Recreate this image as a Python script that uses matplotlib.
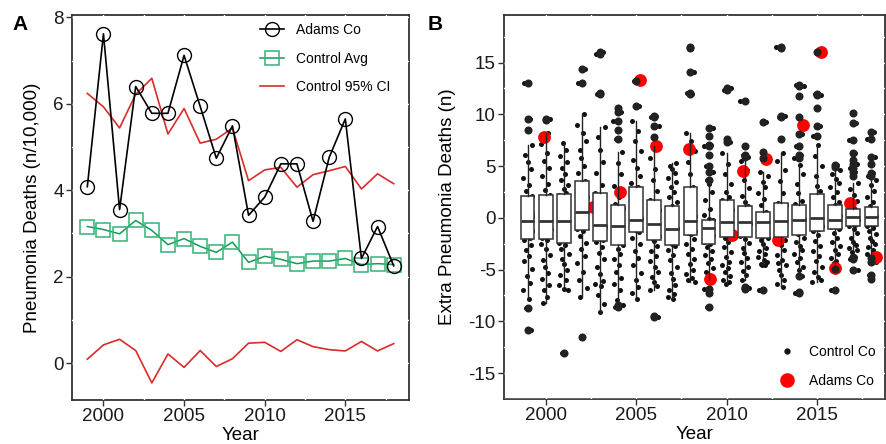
import matplotlib
matplotlib.use("Agg")
import matplotlib.pyplot as plt
from matplotlib.lines import Line2D
from matplotlib.ticker import MultipleLocator
import numpy as np

plt.rcParams['font.family'] = ['Liberation Sans', 'DejaVu Sans']
plt.rcParams['axes.unicode_minus'] = False

years = list(range(1999, 2019))

# panel A: rates per 10,000
adams_rate = [4.08, 7.62, 3.55, 6.40, 5.78, 5.78, 7.12, 5.94, 4.74, 5.49,
              3.42, 3.84, 4.61, 4.61, 3.28, 4.76, 5.65, 2.42, 3.16, 2.25]
control_avg = [3.16, 3.09, 2.99, 3.30, 3.07, 2.74, 2.88, 2.70, 2.56, 2.80,
               2.33, 2.47, 2.40, 2.30, 2.36, 2.36, 2.42, 2.28, 2.30, 2.28]
ci_upper = [6.24, 5.93, 5.44, 6.22, 6.59, 5.30, 5.89, 5.09, 5.18, 5.44,
            4.22, 4.47, 4.53, 4.07, 4.36, 4.45, 4.55, 4.03, 4.38, 4.15]
ci_lower = [0.09, 0.42, 0.55, 0.29, -0.46, 0.21, -0.10, 0.29, -0.08, 0.10,
            0.46, 0.48, 0.27, 0.54, 0.38, 0.31, 0.28, 0.50, 0.28, 0.45]

# panel B: extra deaths per control county
ctrl_1999 = [13.0, 9.6, 8.5, 7.0, 6.1, 5.4, 4.7, 3.9, 3.2, 2.6, 2.1, 1.8, 1.3, 0.9, 0.6, 0.3, 0.1, -0.1, -0.2, -0.3,
             -0.4, -0.6, -0.8, -1.0, -1.3, -1.5, -1.7, -1.9, -2.1, -2.6, -3.1, -3.7, -4.2, -4.9, -5.6, -6.3, -7.0, -7.8, -8.7, -10.8]
ctrl_2000 = [9.6, 9.5, 8.2, 7.1, 6.3, 5.5, 4.8, 4.0, 3.3, 2.7, 2.2, 1.9, 1.5, 1.1, 0.8, 0.5, 0.2, 0.0, -0.1, -0.3,
             -0.5, -0.7, -0.9, -1.1, -1.3, -1.5, -1.7, -1.9, -2.1, -2.5, -3.0, -3.6, -4.1, -4.7, -5.3, -5.9, -6.5, -7.0, -7.6, -8.2]
ctrl_2001 = [7.2, 6.6, 6.0, 5.4, 4.8, 4.2, 3.7, 3.2, 2.8, 2.4, 2.2, 1.8, 1.4, 1.0, 0.7, 0.4, 0.1, -0.1, -0.2, -0.3,
             -0.5, -0.8, -1.1, -1.4, -1.7, -2.0, -2.2, -2.4, -2.6, -3.0, -3.5, -4.0, -4.5, -5.0, -5.5, -6.0, -6.5, -6.9, -7.0, -13.1]
ctrl_2002 = [14.4, 13.0, 10.0, 9.0, 8.2, 7.4, 6.6, 5.8, 5.0, 4.3, 3.6, 3.2, 2.8, 2.4, 2.0, 1.6, 1.3, 1.0, 0.8, 0.6,
             0.5, 0.3, 0.1, -0.1, -0.3, -0.5, -0.7, -0.9, -1.1, -1.3, -1.8, -2.4, -3.0, -3.7, -4.4, -5.2, -6.0, -6.8, -7.6, -11.5]
ctrl_2003 = [16.0, 15.8, 12.1, 12.0, 8.8, 7.8, 6.6, 5.4, 4.3, 3.2, 2.4, 2.0, 1.6, 1.2, 0.8, 0.4, 0.0, -0.2, -0.4, -0.6,
             -0.7, -0.9, -1.1, -1.3, -1.5, -1.7, -1.9, -2.1, -2.3, -2.8, -3.4, -4.0, -4.7, -5.4, -6.1, -6.4, -6.6, -7.5, -8.3, -9.1]
ctrl_2004 = [10.6, 10.2, 9.4, 8.5, 7.6, 6.4, 5.3, 4.2, 3.1, 2.0, 1.3, 1.0, 0.7, 0.4, 0.1, -0.1, -0.3, -0.5, -0.7, -0.8,
             -0.9, -1.1, -1.3, -1.5, -1.7, -1.9, -2.1, -2.3, -2.6, -3.0, -3.5, -4.0, -4.6, -5.2, -5.8, -6.4, -7.0, -7.9, -8.4, -8.6]
ctrl_2005 = [13.2, 10.8, 9.4, 8.4, 7.4, 6.5, 5.6, 4.8, 4.0, 3.4, 3.0, 2.6, 2.2, 1.8, 1.4, 1.0, 0.6, 0.3, 0.0, -0.1,
             -0.2, -0.3, -0.4, -0.5, -0.7, -0.8, -0.9, -1.0, -1.2, -1.4, -1.9, -2.5, -3.2, -3.9, -4.6, -5.3, -6.0, -6.7, -7.3, -7.8]
ctrl_2006 = [9.8, 9.7, 8.9, 7.8, 6.9, 5.8, 4.7, 3.7, 2.6, 1.7, 1.4, 1.1, 0.8, 0.5, 0.2, 0.0, -0.2, -0.4, -0.5, -0.6,
             -0.8, -1.0, -1.2, -1.4, -1.6, -1.8, -2.0, -2.2, -2.7, -3.2, -3.7, -4.2, -4.7, -5.2, -5.7, -6.2, -6.6, -7.0, -9.6, -9.5]
ctrl_2007 = [5.3, 5.0, 4.7, 4.3, 3.9, 3.5, 3.0, 2.5, 2.0, 1.5, 1.1, 0.8, 0.5, 0.2, -0.1, -0.3, -0.5, -0.7, -0.9, -1.0,
             -1.1, -1.3, -1.5, -1.7, -1.9, -2.1, -2.3, -2.5, -2.7, -3.1, -3.6, -4.1, -4.7, -5.3, -5.9, -6.5, -7.0, -7.4, -7.6, -7.8]
ctrl_2008 = [16.5, 16.4, 14.1, 12.1, 12.0, 8.2, 7.4, 6.5, 5.4, 4.2, 3.0, 2.5, 2.0, 1.5, 1.0, 0.6, 0.2, -0.1, -0.2, -0.3,
             -0.4, -0.5, -0.7, -0.8, -1.0, -1.2, -1.3, -1.5, -1.6, -2.0, -2.5, -3.0, -3.5, -4.0, -4.5, -5.0, -5.4, -5.8, -6.0, -6.2]
ctrl_2009 = [8.7, 7.9, 7.0, 6.9, 6.1, 5.0, 4.4, 3.7, 3.3, 2.5, 1.7, 0.9, 0.3, -0.1, -0.2, -0.4, -0.6, -0.8, -0.9, -1.0,
             -1.1, -1.3, -1.5, -1.7, -1.9, -2.1, -2.3, -2.5, -2.8, -3.2, -3.6, -4.0, -4.4, -4.8, -5.2, -5.6, -6.0, -6.9, -7.3, -8.6]
ctrl_2010 = [12.5, 12.4, 7.6, 7.3, 6.3, 5.2, 4.2, 3.3, 2.5, 2.0, 1.7, 1.4, 1.1, 0.8, 0.5, 0.2, 0.0, -0.2, -0.3, -0.4,
             -0.5, -0.7, -0.9, -1.1, -1.3, -1.5, -1.7, -1.9, -2.3, -2.8, -3.3, -3.8, -4.3, -4.6, -4.8, -5.2, -5.6, -6.0, -6.2, -6.4]
ctrl_2011 = [11.3, 6.9, 6.1, 5.9, 5.5, 4.6, 3.7, 2.9, 2.1, 1.5, 1.1, 0.8, 0.5, 0.3, 0.1, -0.1, -0.2, -0.3, -0.4, -0.5,
             -0.6, -0.8, -1.0, -1.2, -1.4, -1.6, -1.8, -2.0, -2.4, -2.9, -3.4, -3.9, -4.3, -4.7, -5.1, -5.5, -6.0, -6.8, -6.9, -6.7]
ctrl_2012 = [9.3, 6.4, 5.8, 4.4, 4.0, 3.5, 3.0, 2.4, 1.8, 1.2, 0.6, 0.4, 0.2, 0.1, 0.0, -0.1, -0.2, -0.3, -0.4, -0.4,
             -0.5, -0.7, -0.9, -1.1, -1.3, -1.5, -1.7, -1.9, -2.1, -2.5, -2.9, -3.2, -3.5, -3.8, -4.1, -4.3, -4.5, -4.6, -4.6, -7.0]
ctrl_2013 = [16.5, 16.4, 9.8, 9.7, 7.6, 6.3, 5.5, 4.6, 3.6, 2.4, 1.4, 1.2, 0.9, 0.7, 0.4, 0.2, 0.0, -0.1, -0.2, -0.3,
             -0.4, -0.6, -0.8, -1.0, -1.2, -1.4, -1.6, -1.8, -2.1, -2.6, -3.1, -3.6, -4.1, -4.4, -4.6, -5.0, -5.5, -6.0, -6.4, -6.7]
ctrl_2014 = [12.8, 12.7, 11.8, 9.7, 8.1, 6.9, 6.1, 5.8, 5.1, 4.2, 3.3, 2.4, 1.6, 1.3, 1.0, 0.7, 0.4, 0.1, -0.1, -0.2,
             -0.3, -0.4, -0.6, -0.8, -1.0, -1.2, -1.4, -1.6, -1.9, -2.3, -2.7, -3.1, -3.5, -3.9, -4.3, -4.7, -5.0, -5.6, -7.3, -7.2]
ctrl_2015 = [16.0, 12.0, 11.9, 10.6, 8.9, 7.9, 7.0, 6.0, 5.0, 4.0, 3.1, 2.6, 2.1, 1.7, 1.3, 0.9, 0.6, 0.3, 0.1, 0.0,
             -0.1, -0.2, -0.3, -0.5, -0.6, -0.8, -0.9, -1.1, -1.3, -1.7, -2.2, -2.7, -3.2, -3.7, -4.2, -4.7, -5.2, -5.7, -6.0, -6.2]
ctrl_2016 = [5.1, 4.9, 4.6, 4.2, 3.8, 3.4, 3.0, 2.5, 2.0, 1.5, 1.2, 1.0, 0.8, 0.6, 0.4, 0.2, 0.1, 0.0, -0.1, -0.2,
             -0.2, -0.3, -0.4, -0.5, -0.6, -0.7, -0.8, -0.9, -1.1, -1.5, -1.9, -2.3, -2.7, -3.1, -3.5, -3.9, -4.2, -4.4, -4.9, -7.0]
ctrl_2017 = [10.1, 9.2, 7.5, 6.3, 5.6, 5.2, 4.8, 4.4, 4.0, 3.4, 2.8, 2.2, 1.6, 1.1, 0.9, 0.7, 0.5, 0.3, 0.2, 0.1,
             0.0, -0.1, -0.2, -0.3, -0.4, -0.5, -0.6, -0.7, -0.8, -1.1, -1.5, -1.9, -2.3, -2.6, -2.9, -3.1, -3.3, -3.8, -4.0, -5.0]
ctrl_2018 = [8.3, 7.6, 5.9, 5.2, 4.3, 4.0, 3.7, 3.2, 2.6, 2.0, 1.5, 1.1, 0.9, 0.7, 0.5, 0.3, 0.2, 0.1, 0.0, -0.1,
             -0.2, -0.3, -0.4, -0.5, -0.6, -0.7, -0.8, -1.0, -1.3, -1.6, -1.9, -2.2, -2.5, -2.8, -3.1, -3.5, -3.9, -4.3, -5.5, -5.9]
control_extra = [ctrl_1999, ctrl_2000, ctrl_2001, ctrl_2002, ctrl_2003, ctrl_2004, ctrl_2005,
                 ctrl_2006, ctrl_2007, ctrl_2008, ctrl_2009, ctrl_2010, ctrl_2011, ctrl_2012,
                 ctrl_2013, ctrl_2014, ctrl_2015, ctrl_2016, ctrl_2017, ctrl_2018]

box_q1 = [-2.0, -2.0, -2.42, -1.19, -2.23, -2.58, -1.35, -2.16, -2.58, -1.61,
          -2.52, -1.87, -1.87, -1.97, -1.87, -1.61, -1.23, -1.06, -0.81, -0.81]
box_med = [-0.26, -0.26, -0.29, 0.55, -0.65, -0.81, -0.16, -0.55, -1.06, -0.35,
           -1.0, -0.42, -0.42, -0.42, -0.26, -0.23, 0.0, -0.16, 0.06, 0.06]
box_q3 = [2.10, 2.20, 2.26, 3.61, 2.39, 1.29, 2.97, 1.68, 1.10, 2.97,
          -0.16, 1.68, 1.13, 0.61, 1.42, 1.26, 2.32, 1.23, 0.90, 1.03]
whisk_lo = [-7.8, -8.2, -7.0, -7.6, -9.1, -7.9, -7.8, -7.0, -7.8, -6.2,
            -6.0, -6.4, -6.0, -4.6, -6.7, -5.0, -6.2, -4.4, -3.3, -3.5]
whisk_hi = [7.0, 8.2, 7.2, 10.0, 8.8, 6.4, 9.4, 6.9, 5.3, 8.2,
            3.3, 6.3, 5.5, 4.4, 6.3, 5.1, 7.0, 4.6, 3.4, 3.7]

adams_extra = [0.5, 7.8, 0.3, 0.0, 1.06, 2.5, 13.3, 6.9, -0.5, 6.7,
               -5.9, -1.7, 4.5, 5.7, -2.1, 9.0, 16.0, -4.8, 1.4, -3.8]

# jitter offsets (horizontal spread only)
jitter = [-0.21, 0.12, -0.05, 0.25, -0.16, 0.03, 0.19, -0.27, 0.08, -0.11,
          0.22, -0.02, 0.15, -0.24, 0.06, -0.14, 0.27, -0.08, 0.01, 0.17,
          -0.19, 0.10, -0.26, 0.04, 0.23, -0.12, -0.03, 0.14, -0.22, 0.20,
          -0.07, 0.09, -0.17, 0.26, -0.01, 0.13, -0.25, 0.07, -0.09, 0.18]
adams_jitter = [0.0, -0.1, 0.0, 0.0, -0.38, 0.1, 0.2, 0.1, 0.0, -0.1,
                0.1, 0.3, -0.1, 0.2, -0.15, 0.2, 0.2, 0.0, -0.2, 0.25]

DARK = '#333333'
RED = '#dd2a2a'
GREEN_LINE = '#129a56'
GREEN_SQ = '#36b277'
FS = 13.5


def style_axes(ax, xminor, yminor):
    ax.set_axisbelow(True)
    for sp in ax.spines.values():
        sp.set_color(DARK)
        sp.set_linewidth(1.3)
        sp.set_zorder(0.3)
    ax.xaxis.set_minor_locator(MultipleLocator(xminor))
    ax.yaxis.set_minor_locator(MultipleLocator(yminor))
    ax.grid(which='both', color='white', lw=1.0)
    ax.tick_params(which='major', direction='out', length=4, width=1, color=DARK,
                   labelsize=FS, labelcolor='#1a1a1a', pad=2)
    ax.tick_params(which='minor', length=0)
    ax.set_xticks([2000, 2005, 2010, 2015])


fig = plt.figure(figsize=(8.86, 4.44), dpi=100)

# ---- panel A
ax1 = fig.add_axes([72 / 886, 44 / 444, 337 / 886, 385 / 444])
ax1.plot(years, ci_upper, color=RED, lw=1.2, zorder=2)
ax1.plot(years, ci_lower, color=RED, lw=1.2, zorder=2)
ax1.plot(years, control_avg, color=GREEN_LINE, lw=1.1, zorder=3)
ax1.plot(years, control_avg, ls='', marker='s', markersize=10, mfc='none',
         mec=GREEN_SQ, mew=1.1, zorder=3)
ax1.plot(years, adams_rate, color='black', lw=1.2, marker='o', markersize=10,
         mfc='none', mec='black', mew=1.0, zorder=4)
ax1.set_xlim(1998.05, 2018.95)
ax1.set_ylim(-0.855, 8.055)
ax1.set_yticks([0, 2, 4, 6, 8])
style_axes(ax1, 2.5, 1)
ax1.set_xlabel('Year', fontsize=FS, labelpad=1.5)
ax1.set_ylabel('Pneumonia Deaths (n/10,000)', fontsize=FS, labelpad=9)

handles_a = [
    Line2D([], [], color='black', lw=1.2, marker='o', markersize=10, mfc='none', mew=1.0),
    Line2D([], [], color=GREEN_LINE, lw=1.1, marker='s', markersize=10, mfc='none',
           mec=GREEN_SQ, mew=1.1),
    Line2D([], [], color=RED, lw=1.2),
]
ax1.legend(handles_a, ['Adams Co', 'Control Avg', 'Control 95% CI'], frameon=False,
           loc='upper left', bbox_to_anchor=(260 / 886, 1 - 23 / 444),
           bbox_transform=fig.transFigure, fontsize=10, handlelength=1.7,
           handletextpad=0.9, labelspacing=1.05, borderpad=0, borderaxespad=0)

# ---- panel B
ax2 = fig.add_axes([504 / 886, 45 / 444, 381 / 886, 384 / 444])
for i, (yr, vals) in enumerate(zip(years, control_extra)):
    offs = np.roll(jitter, i * 7)[:len(vals)]
    ax2.scatter(np.array(offs) + yr, vals, s=13, color='#111111', lw=0, zorder=2)
ax2.scatter(np.array(years) + np.array(adams_jitter), adams_extra, s=85, color='#ff0000',
            lw=0, zorder=3)
stats = []
for i, vals in enumerate(control_extra):
    lo, hi = whisk_lo[i], whisk_hi[i]
    stats.append(dict(med=box_med[i], q1=box_q1[i], q3=box_q3[i], whislo=lo, whishi=hi,
                      fliers=[v for v in vals if v < lo or v > hi]))
ax2.bxp(stats, positions=years, widths=0.76, patch_artist=True, showcaps=False,
        manage_ticks=False, zorder=4,
        boxprops=dict(facecolor='white', edgecolor=DARK, lw=1.1),
        medianprops=dict(color=DARK, lw=2.0),
        whiskerprops=dict(color='#222222', lw=1.0),
        flierprops=dict(marker='o', markerfacecolor='#222222', markeredgecolor='none',
                        markersize=5.8))
ax2.set_xlim(1997.7, 2018.75)
ax2.set_ylim(-17.5, 19.6)
ax2.set_yticks([-15, -10, -5, 0, 5, 10, 15])
style_axes(ax2, 2.5, 2.5)
ax2.set_xlabel('Year', fontsize=FS, labelpad=1.5)
ax2.set_ylabel('Extra Pneumonia Deaths (n)', fontsize=FS, labelpad=9)

handles_b = [
    Line2D([], [], ls='', marker='o', color='#111111', markersize=3.5),
    Line2D([], [], ls='', marker='o', color='#ff0000', markersize=9.5),
]
ax2.legend(handles_b, ['Control Co', 'Adams Co'], frameon=False, loc='upper left',
           bbox_to_anchor=(778 / 886, 1 - 345 / 444), bbox_transform=fig.transFigure,
           fontsize=10, handlelength=1.3, handletextpad=0.9, labelspacing=1.05,
           borderpad=0, borderaxespad=0)

fig.text(12 / 886, 1 - 15 / 444, 'A', fontsize=15, fontweight='bold', va='top')
fig.text(428 / 886, 1 - 15 / 444, 'B', fontsize=15, fontweight='bold', va='top')

fig.savefig('out.png', dpi=100)
